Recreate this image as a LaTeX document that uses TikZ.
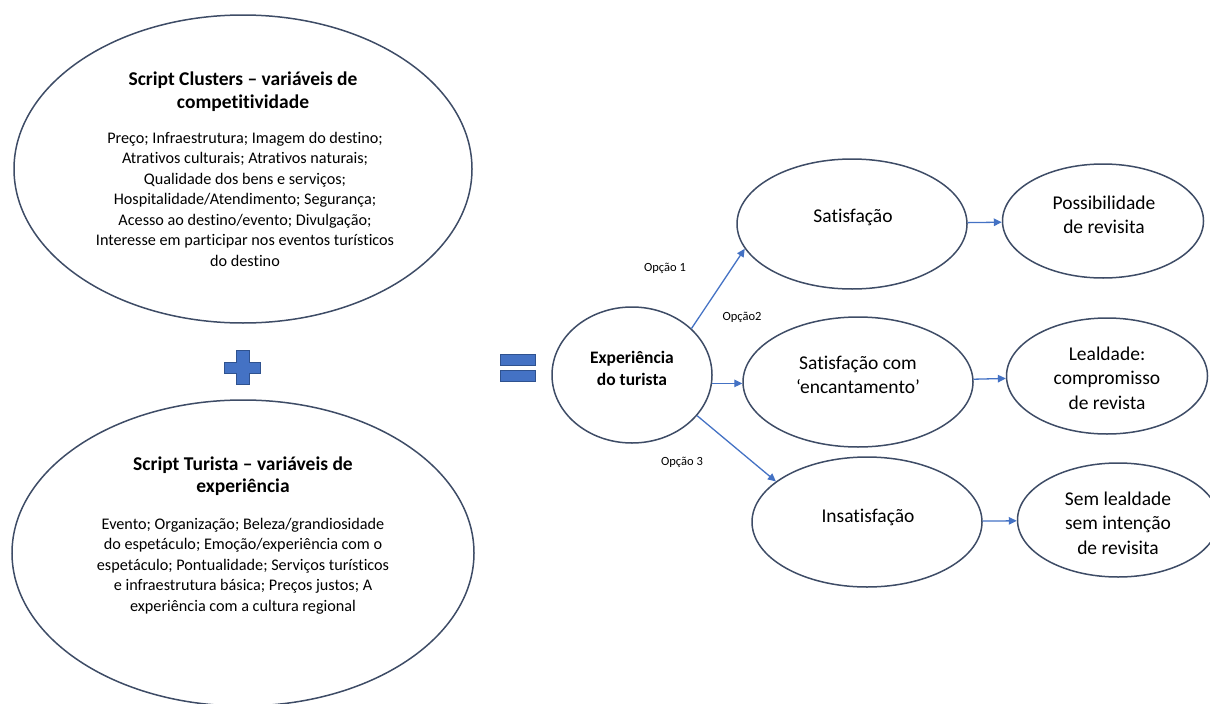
\documentclass[tikz,border=0pt]{standalone}
\usepackage{fontspec}
\setmainfont[Ligatures=NoCommon]{Carlito}
\usetikzlibrary{shapes.geometric,arrows.meta,calc}
\definecolor{rim}{HTML}{3E4C66}
\definecolor{flow}{HTML}{4472C4}
\definecolor{signedge}{HTML}{2F528F}
\begin{document}
\begin{tikzpicture}[x=1pt,y=-1pt,
  oval/.style={draw=rim,line width=1.5pt,ellipse,inner sep=0pt},
  ttl/.style={font=\fontsize{19.5}{22.6}\selectfont\bfseries,align=center,inner sep=0pt},
  body/.style={font=\fontsize{16.2}{20.5}\selectfont,align=center,inner sep=0pt},
  big/.style={font=\fontsize{19.5}{24.5}\selectfont,align=center,inner sep=0pt},
  opt/.style={font=\fontsize{12.5}{15}\selectfont,inner sep=0pt},
  link/.style={draw=flow,line width=1.3pt,-{Triangle[length=8pt,width=7.5pt]}},
  sign/.style={fill=flow,draw=signedge,line width=0.8pt}]
\useasboundingbox (0,0) rectangle (1210,704);

% left-hand scripts
\node[oval,minimum width=458pt,minimum height=308pt] (clusters) at (243,169) {};
\node[ttl] (clustersT) at (243,91.5) {Script Clusters – variáveis de\\competitividade};
\node[body] (clustersB) at (245,199) {Preço; Infraestrutura; Imagem do destino;\\Atrativos culturais; Atrativos naturais;\\Qualidade dos bens e serviços;\\Hospitalidade/Atendimento; Segurança;\\Acesso ao destino/evento; Divulgação;\\Interesse em participar nos eventos turísticos\\do destino};

\node[oval,minimum width=462pt,minimum height=306pt] (turista) at (243,553) {};
\node[ttl] (turistaT) at (243,476) {Script Turista – variáveis de\\experiência};
\node[body] (turistaB) at (243,566) {Evento; Organização; Beleza/grandiosidade\\do espetáculo; Emoção/experiência com o\\espetáculo; Pontualidade; Serviços turísticos\\e infraestrutura básica; Preços justos; A\\experiência com a cultura regional};

% plus sign
\path[sign] (236,350) -- (249,350) -- (249,362) -- (260,362) -- (260,373) -- (249,373)
  -- (249,384) -- (236,384) -- (236,373) -- (224,373) -- (224,362) -- (236,362) -- cycle;
% equals sign
\path[sign] (500,354) rectangle (535,365);
\path[sign] (500,370) rectangle (535,381);

% tourist experience and outcomes
\node[oval,minimum width=160pt,minimum height=136pt] (exp) at (632,375) {};
\node[font=\fontsize{17.5}{22}\selectfont\bfseries,align=center,inner sep=0pt] (expT) at (632,368) {Experiência\\do turista};

\node[oval,minimum width=230pt,minimum height=130pt] (sat) at (852,224) {};
\node[big] (satT) at (853,217) {Satisfação};
\node[oval,minimum width=230pt,minimum height=130pt] (satcom) at (858,382) {};
\node[big] (satcomT) at (858,375) {Satisfação com\\‘encantamento’};
\node[oval,minimum width=230pt,minimum height=130pt] (insat) at (867,522) {};
\node[big] (insatT) at (868,517) {Insatisfação};

\node[oval,minimum width=201pt,minimum height=114pt] (poss) at (1103,221) {};
\node[big] (possT) at (1104,215) {Possibilidade\\de revisita};
\node[oval,minimum width=201pt,minimum height=116pt] (leal) at (1107,376) {};
\node[big] (lealT) at (1107,378) {Lealdade:\\compromisso\\de revista};
\node[oval,minimum width=201pt,minimum height=114pt] (sem) at (1118,520) {};
\node[big] (semT) at (1118,523) {Sem lealdade\\sem intenção\\de revisita};

% option labels
\node[opt] (o1) at (665,268) {Opção 1};
\node[opt] (o2) at (742,317) {Opção2};
\node[opt] (o3) at (682,462) {Opção 3};

% connectors
\draw[link] (exp.38) -- (sat.193);
\draw[link] (exp.-6) -- (exp.-6 -| satcom.west);
\draw[link] (exp.-32) -- (insat.156);
\draw[link] (sat) -- (poss);
\draw[link] (satcom) -- (leal);
\draw[link] (insat) -- (sem);
\end{tikzpicture}
\end{document}
